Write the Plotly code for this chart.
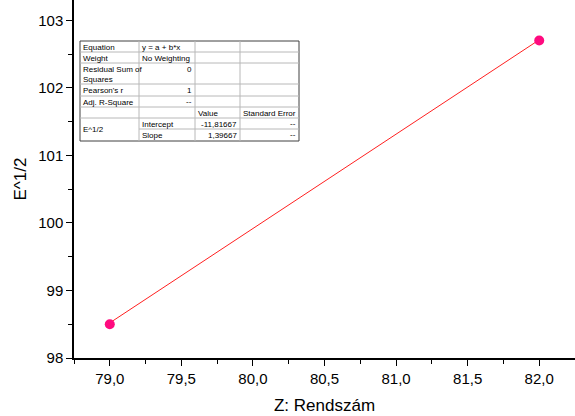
import plotly.graph_objects as go

# Data
z_values = [79.0, 82.0]
e_sqrt_values = [98.5, 102.7]
intercept = -11.81667
slope = 1.39667

x_ticks = [79.0, 79.5, 80.0, 80.5, 81.0, 81.5, 82.0]
y_ticks = [98, 99, 100, 101, 102, 103]

W, H = 575, 416
L, R, T, B = 74, 0, 0, 58
PW, PH = W - L - R, H - T - B

def px(x):
    return (x - L) / PW

def py(y):
    return (H - B - y) / PH

fit_x = [z_values[0], z_values[-1]]
fit_y = [intercept + slope * v for v in fit_x]

fig = go.Figure()
fig.add_trace(go.Scatter(x=fit_x, y=fit_y, mode="lines",
                         line=dict(color="#ff2020", width=1), showlegend=False,
                         hoverinfo="skip", cliponaxis=False))
fig.add_trace(go.Scatter(x=z_values, y=e_sqrt_values, mode="markers",
                         marker=dict(color="#ff0a7f", size=10), showlegend=False,
                         cliponaxis=False))

# Table geometry (pixels)
cols = [80, 139, 195, 240, 299]
rows = [41, 52, 63, 84, 96, 107, 118, 129, 141]

shapes = []
grey = "#b8b8b8"
def hline(x0, x1, y, color=grey, w=1):
    shapes.append(dict(type="line", xref="paper", yref="paper",
                       x0=px(x0), x1=px(x1), y0=py(y), y1=py(y),
                       line=dict(color=color, width=w)))
def vline(x, y0, y1, color=grey, w=1):
    shapes.append(dict(type="line", xref="paper", yref="paper",
                       x0=px(x), x1=px(x), y0=py(y0), y1=py(y1),
                       line=dict(color=color, width=w)))

shapes.append(dict(type="rect", xref="paper", yref="paper",
                   x0=px(cols[0]), x1=px(cols[-1]), y0=py(rows[0]), y1=py(rows[-1]),
                   fillcolor="white", line=dict(color="#404040", width=1), layer="above"))
for r in rows[1:-1]:
    if r == 129:
        hline(cols[1], cols[-1], r)
    else:
        hline(cols[0], cols[-1], r)
for c in cols[1:-1]:
    vline(c, rows[0], rows[-1])

annotations = []
fs = 8
def txt(text, x, y, align="left"):
    annotations.append(dict(text=text, xref="paper", yref="paper",
                            x=px(x), y=py(y), showarrow=False,
                            xanchor=align, yanchor="top",
                            font=dict(family="Liberation Sans, Arial", size=fs, color="black"),
                            align=align))

txt("Equation", cols[0] + 1, rows[0])
txt("y = a + b*x", cols[1] + 1, rows[0])
txt("Weight", cols[0] + 1, rows[1])
txt("No Weighting", cols[1] + 1, rows[1])
txt("Residual Sum of<br>Squares", cols[0] + 1, rows[2])
txt("0", cols[2] - 1, rows[2], "right")
txt("Pearson's r", cols[0] + 1, rows[3])
txt("1", cols[2] - 1, rows[3], "right")
txt("Adj. R-Square", cols[0] + 1, rows[4])
txt("--", cols[2] - 1, rows[4] - 1, "right")
txt("Value", cols[2] + 1, rows[5])
txt("Standard Error", cols[3] + 1, rows[5])
txt("E^1/2", cols[0] + 1, rows[6] + 5)
txt("Intercept", cols[1] + 1, rows[6])
txt("-11,81667", cols[3] - 1, rows[6], "right")
txt("--", cols[4] - 1, rows[6] - 1, "right")
txt("Slope", cols[1] + 1, rows[7])
txt("1,39667", cols[3] - 1, rows[7], "right")
txt("--", cols[4] - 1, rows[7] - 1, "right")

axis_font = dict(family="Liberation Sans, Arial", size=15, color="black")
fig.update_layout(
    width=W, height=H,
    margin=dict(l=L, r=R, t=T, b=B, autoexpand=False),
    paper_bgcolor="white", plot_bgcolor="white",
    separators=", ",
    shapes=shapes, annotations=annotations,
    xaxis=dict(range=[78.75, 82.25], tickvals=x_ticks, tickformat=".1f",
               automargin=False,
               showgrid=False, zeroline=False, showline=True, linecolor="black",
               linewidth=1.5, ticks="outside", ticklen=6, tickwidth=1.2,
               tickcolor="black", tickfont=axis_font,
               minor=dict(dtick=0.25, ticks="outside", ticklen=4, tickwidth=1.2,
                          tickcolor="black", showgrid=False),
               title=dict(text="Z: Rendszám", font=dict(family="Liberation Sans, Arial", size=17, color="black"),
                          standoff=13)),
    yaxis=dict(range=[98, 103.3], tickvals=y_ticks,
               automargin=False,
               showgrid=False, zeroline=False, showline=True, linecolor="black",
               linewidth=1.5, ticks="outside", ticklen=6, tickwidth=1.2,
               tickcolor="black", tickfont=axis_font,
               minor=dict(dtick=0.5, ticks="outside", ticklen=4, tickwidth=1.2,
                          tickcolor="black", showgrid=False),
               title=dict(text="E^1/2", font=dict(family="Liberation Sans, Arial", size=17, color="black"),
                          standoff=7)),
)

fig.write_html("out.html", config={"displayModeBar": False},
               post_script="document.body.style.margin='0px';document.body.style.overflow='hidden';")
